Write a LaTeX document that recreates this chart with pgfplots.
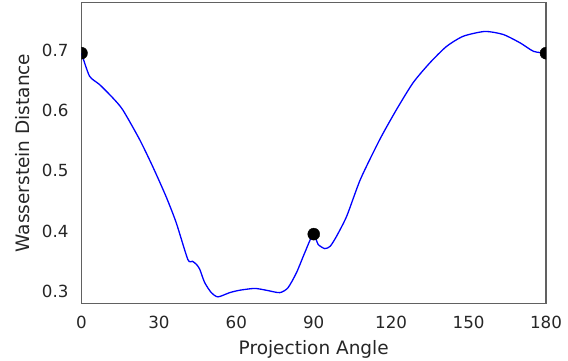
\documentclass[border=0pt]{standalone}
\usepackage{pgfplots}
\pgfplotsset{compat=1.18}
\usepackage{fontspec}
\setmainfont{DejaVu Sans}
\definecolor{txt}{gray}{0.15}
\definecolor{edge}{gray}{0.38}
\begin{document}
\begin{tikzpicture}
\begin{axis}[
  scale only axis,
  width=464.5pt, height=301pt,
  xmin=0, xmax=180, ymin=0.280, ymax=0.779,
  xtick={0,30,60,90,120,150,180},
  ytick={0.3,0.4,0.5,0.6,0.7},
  yticklabel style={/pgf/number format/fixed,/pgf/number format/precision=1,/pgf/number format/fixed zerofill},
  /pgf/number format/assume math mode=true,
  major tick length=0pt,
  axis line style={edge, line width=1.4pt},
  tick label style={font=\fontsize{16.7}{20}\selectfont, text=txt},
  xticklabel style={yshift=-9pt},
  yticklabel style={xshift=-9.5pt},
  label style={font=\fontsize{18.5}{22}\selectfont, text=txt},
  xlabel={Projection Angle},
  ylabel={Wasserstein Distance},
  xlabel style={at={(rel axis cs:0.5,0)}, anchor=north, yshift=-33pt},
  ylabel shift=5pt,
  clip marker paths=true,
]
\coordinate (bl) at (rel axis cs:0,0);
\addplot[blue, line width=1.3pt, smooth, tension=0.4] coordinates {
(0,0.695) (3.1,0.657) (7,0.643) (12.1,0.621) (16,0.601) (22.5,0.552) (27.6,0.507)
(32.8,0.457) (36.7,0.414) (41.2,0.353) (43,0.350) (44.5,0.345) (45.8,0.337)
(47.7,0.315) (50.3,0.298) (52.9,0.291) (57.4,0.298) (61.3,0.302) (67.1,0.305)
(71.6,0.302) (76.8,0.298) (80,0.306) (83.3,0.331) (86.5,0.364) (89.8,0.395)
(91.7,0.378) (94.3,0.371) (96.4,0.375) (98.9,0.392) (102.8,0.425) (108.1,0.486)
(115.6,0.552) (122,0.601) (128.5,0.646) (135,0.679) (141.4,0.706) (147.9,0.723)
(156.3,0.731) (163.4,0.726) (170,0.712) (175.2,0.698) (180,0.695)
};
\addplot[only marks, mark=*, mark size=6pt, black] coordinates {
(0,0.695) (90,0.395) (180,0.695)
};
\end{axis}
\pgfresetboundingbox
\path[use as bounding box] (bl) ++(-81.5pt,-56.5pt) rectangle ++(568pt,360pt);
\end{tikzpicture}
\end{document}
